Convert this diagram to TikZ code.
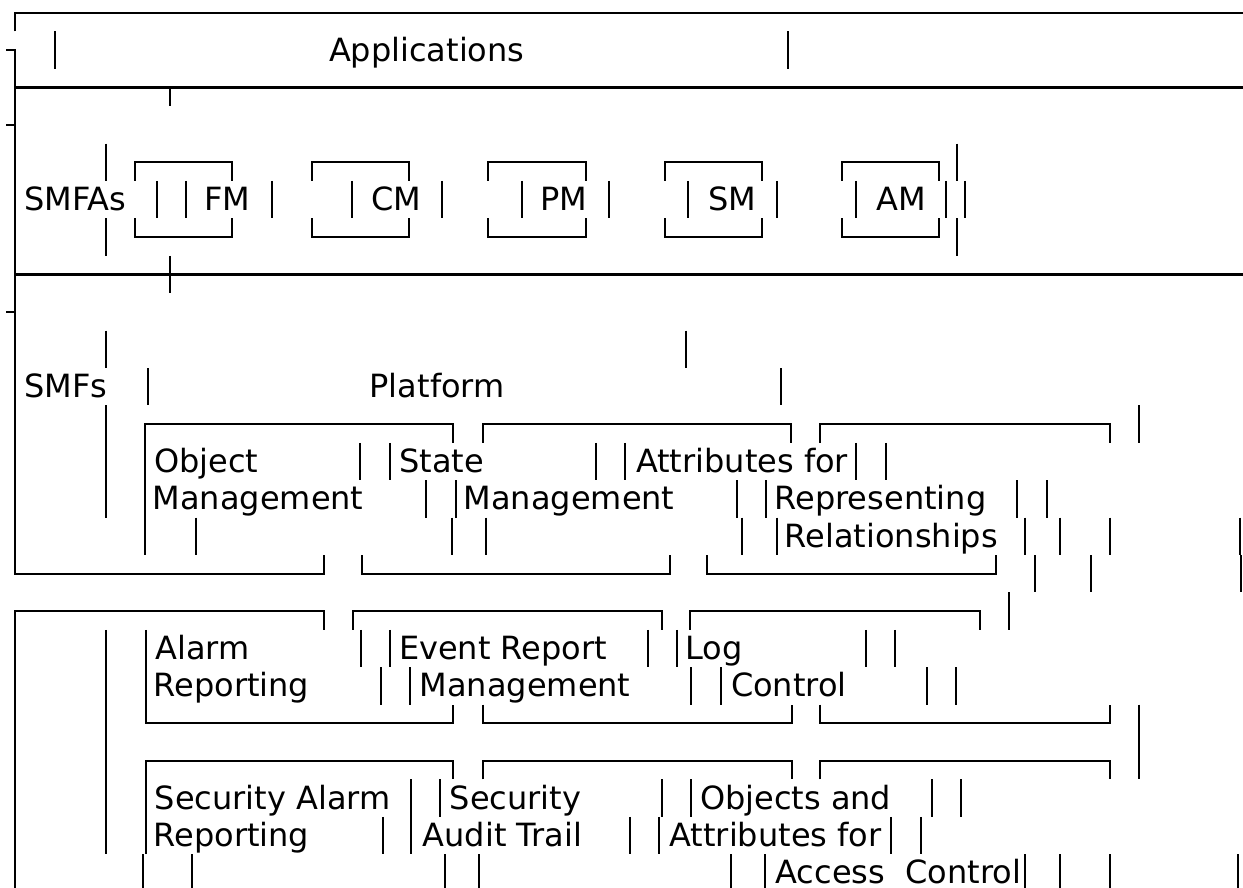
\documentclass[tikz,border=0pt]{standalone}
\usepackage{fontspec}
\setmainfont{DejaVu Sans}
\newcommand\RY[1]{(12.7+37.4*(#1))}
\begin{document}
\begin{tikzpicture}[x=1pt,y=-1pt,
  ln/.style={line width=2.3pt,line join=miter},
  lbl/.style={anchor=base west,inner sep=0pt,outer sep=0pt,font=\fontsize{32}{38}\selectfont}]
\useasboundingbox[fill=white] (0,0) rectangle (1243,888);
% helpers
\newcommand\VB[3]{\draw[ln] (#1,{\RY{#2}-18.7}) -- (#1,{\RY{#3}+18.7});}
\newcommand\TB[3]{\draw[ln] (#1,{\RY{#3}+18.7}) -- (#1,{\RY{#3}}) -- (#2,{\RY{#3}}) -- (#2,{\RY{#3}+18.7});}
\newcommand\BB[3]{\draw[ln] (#1,{\RY{#3}-18.7}) -- (#1,{\RY{#3}}) -- (#2,{\RY{#3}}) -- (#2,{\RY{#3}-18.7});}
\newcommand\TX[4]{\node[lbl] (#1) at (#2,{\RY{#3}+11}) {#4};}
% row 0
\draw[ln] (15,{\RY{0}+18.7}) -- (15,{\RY{0}}) -- (1243,{\RY{0}});
% left frame, rows 1-15
\draw[ln] (6,{\RY{1}}) -- (15,{\RY{1}}) -- (15,{\RY{15}}) -- (324,{\RY{15}}) -- (324,{\RY{15}-18.7});
\draw[ln] (6,{\RY{3}}) -- (15,{\RY{3}});
\draw[ln] (6,{\RY{8}}) -- (15,{\RY{8}});
% row 1
\VB{55}{1}{1} \VB{788}{1}{1}
\TX{app}{329}{1}{Applications}
% row 2
\draw[ln] (15,{\RY{2}}) -- (1243,{\RY{2}});
\draw[ln] (170,{\RY{2}}) -- (170,{\RY{2}+18.7});
% rows 4-6
\VB{106}{4}{4} \VB{106}{6}{6} \VB{957.3}{4}{4} \VB{957.3}{6}{6}
\foreach \a/\b in {135/232, 312/408.7, 488.3/585.7, 665/761.7, 842/938.7}{
  \TB{\a}{\b}{4} \BB{\a}{\b}{6}}
\foreach \x in {156.7,186,271.7,352.3,441.7,521.7,609,688.3,776.7,856.3,946.3,965.3}{\VB{\x}{5}{5}}
\TX{smfas}{24.5}{5}{SMFAs}
\TX{fm}{204.5}{5}{FM}
\TX{cm}{371.5}{5}{CM}
\TX{pm}{540.5}{5}{PM}
\TX{sm}{708}{5}{SM}
\TX{am}{876.5}{5}{AM}
% row 7
\draw[ln] (15,{\RY{7}}) -- (1243,{\RY{7}});
\VB{170}{7}{7}
% rows 9-10
\VB{106}{9}{9} \VB{685.7}{9}{9}
\VB{148.3}{10}{10} \VB{780.7}{10}{10}
\TX{smfs}{24.5}{10}{SMFs}
\TX{plat}{369.7}{10}{Platform}
% rows 11-15
\VB{106}{11}{13}
\TB{145}{453.3}{11} \TB{482.7}{791}{11} \TB{820}{1109.7}{11}
\draw[ln] (145,{\RY{11}}) -- (145,{\RY{14}+18.7});
\VB{1139}{11}{11}
\foreach \x in {360,390,595.7,625,856.3,886.3}{\VB{\x}{12}{12}}
\TX{obj}{154}{12}{Object}
\TX{state}{399.5}{12}{State}
\TX{attr}{636}{12}{Attributes for}
\foreach \x in {426,456,736.7,766,1017.3,1047}{\VB{\x}{13}{13}}
\TX{mgmta}{152.7}{13}{Management}
\TX{mgmtb}{463.7}{13}{Management}
\TX{repr}{774.7}{13}{Representing}
\foreach \x in {195.7,451.7,486,741.7,776.7,1024.7,1059.7,1110.3,1239.7}{\VB{\x}{14}{14}}
\TX{rel}{784.7}{14}{Relationships}
\BB{361.7}{670}{15} \BB{707.3}{996.3}{15}
\foreach \x in {1034.7,1091.3,1241.3}{\VB{\x}{15}{15}}
% rows 16-23
\draw[ln] (15,888) -- (15,{\RY{16}}) -- (324,{\RY{16}}) -- (324,{\RY{16}+18.7});
\TB{353.3}{661.7}{16} \TB{690}{979.7}{16}
\VB{1008.7}{16}{16}
\VB{106}{17}{22}
\draw[ln] (145.7,{\RY{17}-18.7}) -- (145.7,{\RY{19}}) -- (453.3,{\RY{19}}) -- (453.3,{\RY{19}-18.7});
\foreach \x in {360.7,390,647.7,676.7,865.7,895.3}{\VB{\x}{17}{17}}
\TX{alarm}{155.5}{17}{Alarm}
\TX{evt}{399}{17}{Event Report}
\TX{log}{685.3}{17}{Log}
\foreach \x in {381,410,691,721,927,956.3}{\VB{\x}{18}{18}}
\TX{repa}{153.7}{18}{Reporting}
\TX{mgmtc}{419.7}{18}{Management}
\TX{ctrl}{731}{18}{Control}
\BB{482.7}{791.7}{19} \BB{820}{1109.7}{19}
\VB{1139}{19}{20}
\draw[ln] (145.7,{\RY{22}+18.7}) -- (145.7,{\RY{20}}) -- (453.3,{\RY{20}}) -- (453.3,{\RY{20}+18.7});
\TB{482.7}{791.7}{20} \TB{820}{1109.7}{20}
\foreach \x in {410.7,440,661.7,691,932.3,961.3}{\VB{\x}{21}{21}}
\TX{secal}{154.7}{21}{Security Alarm}
\TX{sec}{449.7}{21}{Security}
\TX{objs}{700}{21}{Objects and}
\foreach \x in {382.7,410.7,630,659.3,891.3,920.7}{\VB{\x}{22}{22}}
\TX{repb}{153.7}{22}{Reporting}
\TX{audit}{422.7}{22}{Audit Trail}
\TX{attrb}{669.5}{22}{Attributes for}
\foreach \x in {143.3,192.3,445,479,730.7,765,1024.7,1059.7,1109.7,1238}{\VB{\x}{23}{23}}
\node[lbl,text depth=0pt] (acc) at (775.5,{\RY{23}+11}) {Access\ \ Control};
\end{tikzpicture}
\end{document}
